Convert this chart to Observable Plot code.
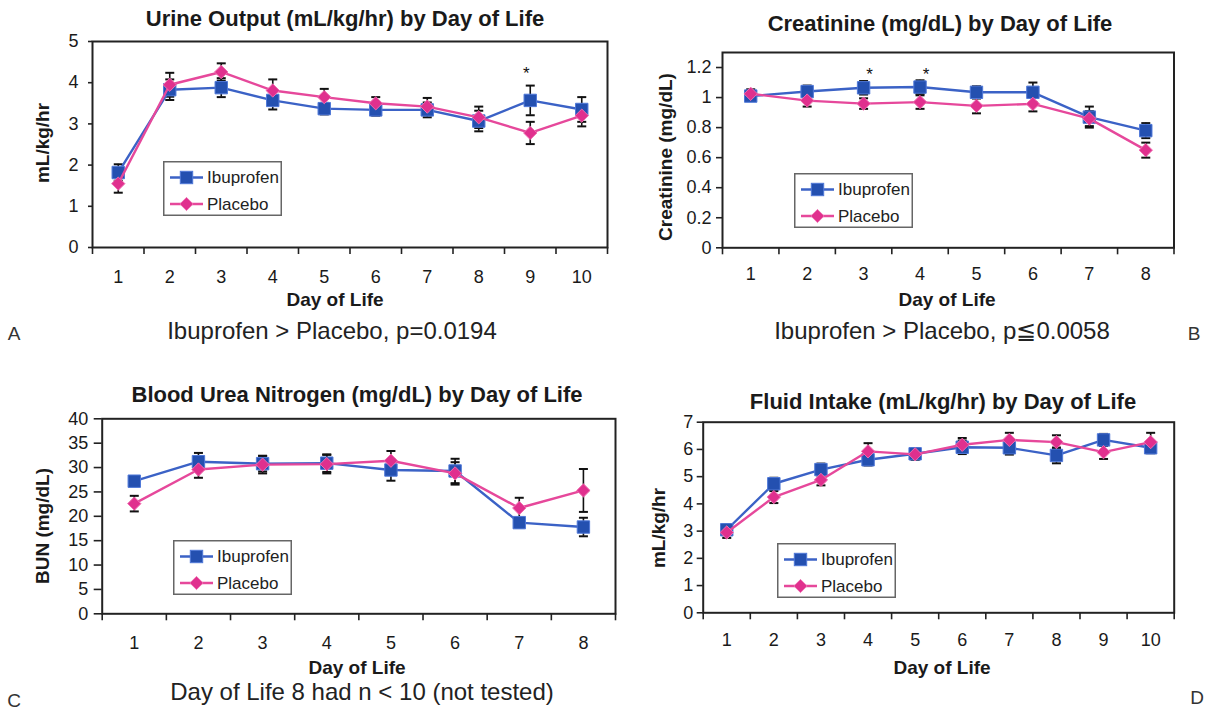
<!DOCTYPE html>
<html><head><meta charset="utf-8">
<script src="https://cdn.jsdelivr.net/npm/d3@7"></script>
<script src="https://cdn.jsdelivr.net/npm/@observablehq/plot@0.6"></script>
<style>
html,body{margin:0;padding:0;background:#fff;overflow:hidden;}
#page{position:relative;width:1207px;height:711px;font-family:"Liberation Sans",Arial,Helvetica,sans-serif;color:#1a1a1a;}
.layer{position:absolute;left:0;top:0;}
.t{position:absolute;white-space:nowrap;transform:translate(-50%,-50%);line-height:1;}
.title{font-weight:bold;font-size:22px;}
.axt{font-weight:bold;font-size:19px;}
.yt{transform:translate(-50%,-50%) rotate(-90deg);}
.cap{font-size:24px;color:#222;}
.letter{font-size:19px;color:#333;}
</style></head><body><div id="page"></div>
<script>
// ---------- data ----------
const days10 = [1, 2, 3, 4, 5, 6, 7, 8, 9, 10];
const days8 = [1, 2, 3, 4, 5, 6, 7, 8];
const seriesNames = ["Ibuprofen", "Placebo"];

// A: Urine output (mL/kg/hr)
const urineIbu = [1.82, 3.83, 3.88, 3.57, 3.37, 3.34, 3.34, 3.07, 3.57, 3.35];
const urineIbuErr = [0.2, 0.25, 0.23, 0.22, 0.14, 0.14, 0.18, 0.25, 0.36, 0.3];
const urinePla = [1.55, 3.95, 4.26, 3.81, 3.65, 3.5, 3.42, 3.16, 2.78, 3.2];
const urinePlaErr = [0.22, 0.29, 0.21, 0.27, 0.2, 0.15, 0.21, 0.26, 0.27, 0.26];
const urineSig = [9];
const urineTicks = [0, 1, 2, 3, 4, 5];

// B: Creatinine (mg/dL)
const creatIbu = [1.01, 1.04, 1.065, 1.07, 1.035, 1.035, 0.87, 0.78];
const creatIbuErr = [0.03, 0.04, 0.045, 0.045, 0.04, 0.065, 0.07, 0.05];
const creatPla = [1.025, 0.98, 0.96, 0.97, 0.945, 0.958, 0.86, 0.65];
const creatPlaErr = [0.03, 0.04, 0.035, 0.045, 0.05, 0.05, 0.05, 0.05];
const creatSig = [3, 4];
const creatTicks = [0, 0.2, 0.4, 0.6, 0.8, 1, 1.2];

// C: Blood urea nitrogen (mg/dL)
const bunIbu = [27.2, 31.2, 30.8, 30.9, 29.5, 29.3, 18.7, 17.8];
const bunIbuErr = [1.0, 1.8, 1.6, 1.8, 2.2, 2.5, 1.0, 1.9];
const bunPla = [22.6, 29.6, 30.6, 30.7, 31.4, 28.8, 21.7, 25.3];
const bunPlaErr = [1.6, 1.7, 1.8, 1.9, 2.0, 2.3, 2.1, 4.4];
const bunTicks = [0, 5, 10, 15, 20, 25, 30, 35, 40];

// D: Fluid intake (mL/kg/hr)
const fluidIbu = [3.05, 4.74, 5.26, 5.62, 5.84, 6.08, 6.06, 5.78, 6.35, 6.06];
const fluidIbuErr = [0.2, 0.22, 0.22, 0.21, 0.2, 0.25, 0.25, 0.29, 0.22, 0.2];
const fluidPla = [2.95, 4.25, 4.88, 5.93, 5.82, 6.17, 6.35, 6.27, 5.9, 6.27];
const fluidPlaErr = [0.2, 0.22, 0.2, 0.3, 0.2, 0.25, 0.26, 0.25, 0.25, 0.34];
const fluidTicks = [0, 1, 2, 3, 4, 5, 6, 7];

// ---------- style ----------
const W = 1207, H = 711;
const FONT = '"Liberation Sans", Arial, Helvetica, sans-serif';
const IBU_LINE = "#3b62c6", IBU_FILL = "#2450b0", IBU_EDGE = "#4f78d8";
const PLA_LINE = "#e6489b", PLA_FILL = "#e0308e", PLA_EDGE = "#ef6db0";
const capSymbol = {draw(ctx, size) { const w = Math.sqrt(size / Math.PI); ctx.moveTo(-w, 0); ctx.lineTo(w, 0); }};

const panels = [
  {days: days10, ibu: urineIbu, ibuErr: urineIbuErr, pla: urinePla, plaErr: urinePlaErr, ticks: urineTicks, ymax: 5, sig: urineSig,
   frame: {left: 92, right: 607, top: 41, bottom: 247}, ytSize: 4, ytPad: 10, xtPad: 23, sigDx: -4, sigDy: -12,
   title: "Urine Output (mL/kg/hr) by Day of Life", titlePos: [345, 18.5],
   ylab: "mL/kg/hr", ylabPos: [42, 143], xlabPos: [335, 299],
   cap: "Ibuprofen > Placebo, p=0.0194", capPos: [332, 331], letter: "A", letterPos: [14, 333],
   legend: [163, 161]},
  {days: days8, ibu: creatIbu, ibuErr: creatIbuErr, pla: creatPla, plaErr: creatPlaErr, ticks: creatTicks, ymax: 1.3, sig: creatSig,
   frame: {left: 722, right: 1173.5, top: 52, bottom: 247.3}, ytSize: 6, ytPad: 5, xtPad: 19.5, sigDx: 6, sigDy: -6,
   title: "Creatinine (mg/dL) by Day of Life", titlePos: [940, 23.5],
   ylab: "Creatinine (mg/dL)", ylabPos: [665, 157], xlabPos: [947, 298.5],
   cap: "Ibuprofen > Placebo, p\u22660.0058", capPos: [942, 331], letter: "B", letterPos: [1194, 333],
   legend: [794, 173]},
  {days: days8, ibu: bunIbu, ibuErr: bunIbuErr, pla: bunPla, plaErr: bunPlaErr, ticks: bunTicks, ymax: 40, sig: [],
   frame: {left: 101.7, right: 615, top: 418.3, bottom: 613.3}, ytSize: 8, ytPad: 6, xtPad: 22, sigDx: 0, sigDy: 0,
   title: "Blood Urea Nitrogen (mg/dL) by Day of Life", titlePos: [357, 395],
   ylab: "BUN (mg/dL)", ylabPos: [42, 526], xlabPos: [357, 666.5],
   cap: "Day of Life 8 had n < 10 (not tested)", capPos: [362, 692], letter: "C", letterPos: [14, 700],
   legend: [173, 540]},
  {days: days10, ibu: fluidIbu, ibuErr: fluidIbuErr, pla: fluidPla, plaErr: fluidPlaErr, ticks: fluidTicks, ymax: 7, sig: [],
   frame: {left: 702.7, right: 1173.7, top: 421.7, bottom: 612.3}, ytSize: 6, ytPad: 4, xtPad: 20.5, sigDx: 0, sigDy: 0,
   title: "Fluid Intake (mL/kg/hr) by Day of Life", titlePos: [943, 401.5],
   ylab: "mL/kg/hr", ylabPos: [658, 528], xlabPos: [942, 666.5],
   cap: null, letter: "D", letterPos: [1197, 697],
   legend: [777, 543]}
];

const page = document.getElementById("page");

function addText(txt, cls, pos) {
  const d = document.createElement("div");
  d.className = "t " + cls;
  d.textContent = txt;
  d.style.left = pos[0] + "px";
  d.style.top = pos[1] + "px";
  page.appendChild(d);
}

function addLegend(pos) {
  const w = 119, h = 55;
  const svg = d3.create("svg").attr("width", w).attr("height", h)
    .style("position", "absolute").style("left", pos[0] + "px").style("top", pos[1] + "px");
  svg.append("rect").attr("x", 0.75).attr("y", 0.75).attr("width", w - 1.5).attr("height", h - 1.5)
    .attr("fill", "#fff").attr("stroke", "#666").attr("stroke-width", 1.5);
  const rows = [
    {name: seriesNames[0], y: 16.5, line: IBU_LINE, fill: IBU_FILL, edge: IBU_EDGE, sym: "square"},
    {name: seriesNames[1], y: 43, line: PLA_LINE, fill: PLA_FILL, edge: PLA_EDGE, sym: "diamond"}
  ];
  for (const r of rows) {
    svg.append("line").attr("x1", 7).attr("x2", 40).attr("y1", r.y).attr("y2", r.y)
      .attr("stroke", r.line).attr("stroke-width", 2.4);
    if (r.sym === "square") {
      svg.append("rect").attr("x", 23.5 - 6.2).attr("y", r.y - 6.2).attr("width", 12.4).attr("height", 12.4)
        .attr("fill", r.fill).attr("stroke", r.edge).attr("stroke-width", 1);
    } else {
      const s = 6.6;
      svg.append("path").attr("d", `M${23.5},${r.y - s}L${23.5 + s},${r.y}L${23.5},${r.y + s}L${23.5 - s},${r.y}Z`)
        .attr("fill", r.fill).attr("stroke", r.edge).attr("stroke-width", 1);
    }
    svg.append("text").attr("x", 44).attr("y", r.y).attr("dy", "0.35em")
      .attr("font-size", 17).attr("font-family", FONT).attr("fill", "#222").text(r.name);
  }
  page.appendChild(svg.node());
}

for (const p of panels) {
  const ibuRows = p.days.map((d, i) => ({day: d, v: p.ibu[i], e: p.ibuErr[i]}));
  const plaRows = p.days.map((d, i) => ({day: d, v: p.pla[i], e: p.plaErr[i]}));
  const all = ibuRows.concat(plaRows);
  const bounds = [p.days[0] - 0.5, ...p.days.map(d => d + 0.5)];
  const sigRows = ibuRows.filter(r => p.sig.includes(r.day));
  const f = p.frame;
  const chart = Plot.plot({
    width: W, height: H,
    marginLeft: f.left, marginRight: W - f.right, marginTop: f.top, marginBottom: H - f.bottom,
    x: {domain: [bounds[0], bounds[bounds.length - 1]], axis: null},
    y: {domain: [0, p.ymax], axis: null},
    style: {background: "transparent", fontFamily: FONT, fontSize: "18px", color: "#1a1a1a", overflow: "visible"},
    marks: [
      Plot.axisY({ticks: p.ticks, tickSize: p.ytSize, tickPadding: p.ytPad, tickFormat: d3.format("~g"), label: null, strokeWidth: 1.6, stroke: "#222", fontSize: 18}),
      Plot.axisX({ticks: bounds, tickSize: 7, tickFormat: () => "", label: null, strokeWidth: 1.6, stroke: "#222"}),
      Plot.axisX({ticks: p.days, tickSize: 0, tickPadding: p.xtPad, tickFormat: d3.format("d"), label: null, fontSize: 18}),
      Plot.ruleX(all, {x: "day", y1: d => d.v - d.e, y2: d => d.v + d.e, stroke: "#111", strokeWidth: 1.6}),
      Plot.dot(all, {x: "day", y: d => d.v - d.e, symbol: capSymbol, r: 4.5, fill: "none", stroke: "#111", strokeWidth: 2}),
      Plot.dot(all, {x: "day", y: d => d.v + d.e, symbol: capSymbol, r: 4.5, fill: "none", stroke: "#111", strokeWidth: 2}),
      Plot.line(ibuRows, {x: "day", y: "v", stroke: IBU_LINE, strokeWidth: 2.4}),
      Plot.dot(ibuRows, {x: "day", y: "v", symbol: "square", r: 7, fill: IBU_FILL, stroke: IBU_EDGE, strokeWidth: 1}),
      Plot.line(plaRows, {x: "day", y: "v", stroke: PLA_LINE, strokeWidth: 2.4}),
      Plot.dot(plaRows, {x: "day", y: "v", symbol: "diamond2", r: 6, fill: PLA_FILL, stroke: PLA_EDGE, strokeWidth: 1}),
      Plot.text(sigRows, {x: "day", y: d => d.v + d.e, text: () => "*", dx: p.sigDx, dy: p.sigDy, fontSize: 17, fill: "#111"}),
      Plot.frame({stroke: "#222", strokeWidth: 2})
    ]
  });
  chart.classList.add("layer");
  chart.style.position = "absolute";
  chart.style.left = "0px";
  chart.style.top = "0px";
  page.appendChild(chart);

  addText(p.title, "title", p.titlePos);
  addText(p.ylab, "axt yt", p.ylabPos);
  addText("Day of Life", "axt", p.xlabPos);
  if (p.cap) addText(p.cap, "cap", p.capPos);
  addText(p.letter, "letter", p.letterPos);
  addLegend(p.legend);
}
</script>
</body></html>
